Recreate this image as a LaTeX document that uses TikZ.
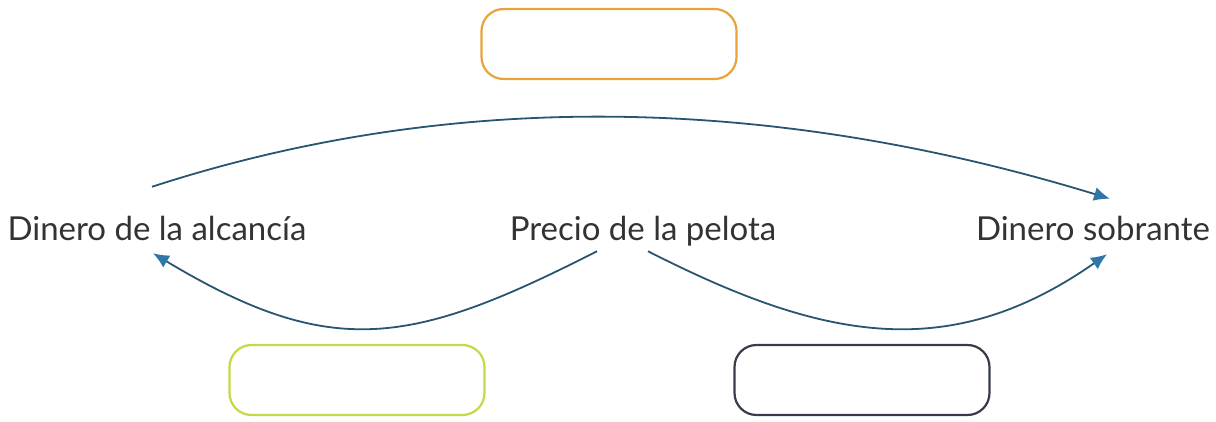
\documentclass[tikz,border=0pt]{standalone}
\usepackage{fontspec}
\setmainfont{Lato}
\usepackage{tikz}
\usetikzlibrary{arrows.meta,positioning,calc}
\usepackage{xcolor}
\definecolor{arr}{RGB}{40,85,112}
\definecolor{tip}{RGB}{45,120,168}
\definecolor{c1}{RGB}{232,164,58}
\definecolor{c2}{RGB}{200,215,70}
\definecolor{c3}{RGB}{55,60,72}
\colorlet{txt}{black!80}

\begin{document}
\begin{tikzpicture}[x=1pt, y=1pt, >={Latex[length=16pt,width=14pt,color=tip]}, line width=1.8pt]
\tikzstyle{every node}=[text=txt, font=\fontsize{33}{38}\selectfont, text height=24pt, text depth=7pt]
\tikzstyle{blank}=[draw, line width=2.2pt, rounded corners=22pt, minimum width=255pt, minimum height=70pt, fill=white]
\useasboundingbox (0,0) rectangle (1216,421);
\node[blank, draw=c1] (boxtop)   at (609,377) {};
\node[blank, draw=c2] (boxleft)  at (357,41)  {};
\node[blank, draw=c3] (boxright) at (862,41)  {};
\node (alcancia) at (157,189.5)  {Dinero de la alcancía};
\node (precio)   at (643,189.5)  {Precio de la pelota};
\node (sobrante) at (1093,189.5) {Dinero sobrante};
\draw[arr, ->]
  ([xshift=-5pt, yshift=25pt]alcancia.north) to[out=18, in=163, looseness=0.89] ([xshift=17pt, yshift=13pt]sobrante.north);
\draw[arr, ->]
  ([xshift=-46pt]precio.south) to[out=207, in=-31, looseness=1.2] ([xshift=-4pt, yshift=-2pt]alcancia.south);
\draw[arr, ->]
  ([xshift=5pt]precio.south) to[out=-27, in=215, looseness=1.08] ([xshift=14pt, yshift=-3pt]sobrante.south);
\end{tikzpicture}
\end{document}
